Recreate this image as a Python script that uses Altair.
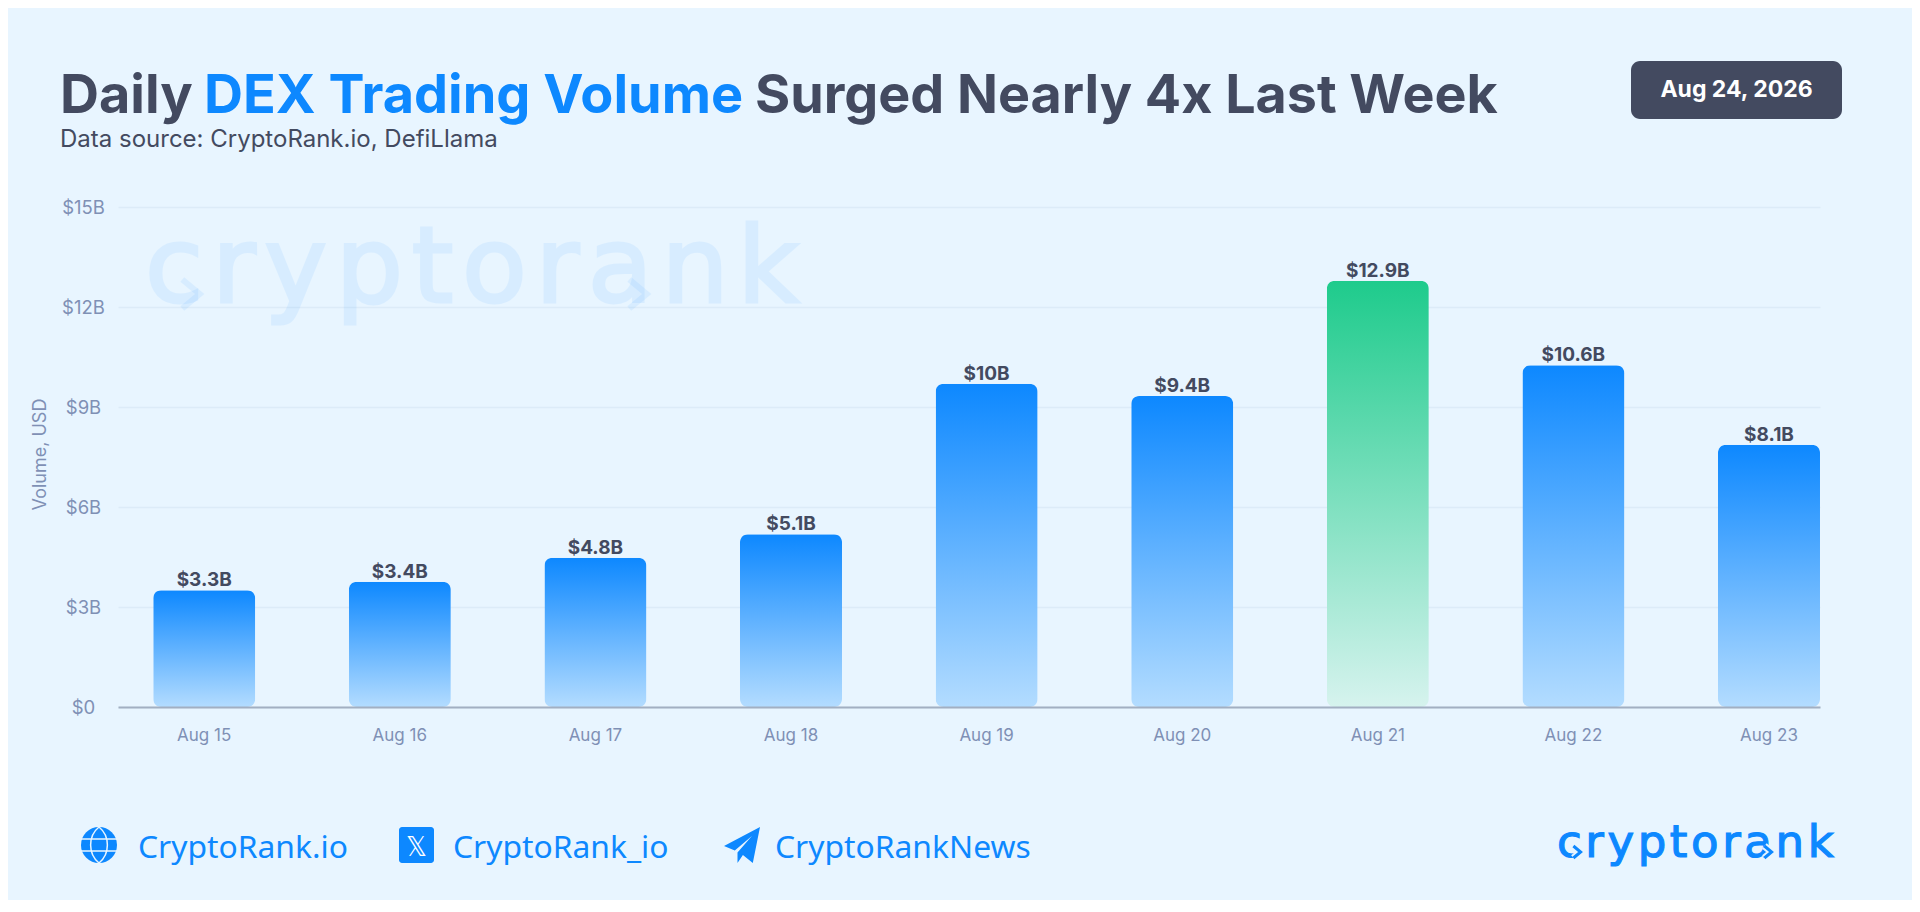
import altair as alt
import pandas as pd

days = ["Aug 15", "Aug 16", "Aug 17", "Aug 18", "Aug 19", "Aug 20", "Aug 21", "Aug 22", "Aug 23"]
bar_heights = [3.50, 3.76, 4.48, 5.18, 9.70, 9.33, 12.79, 10.25, 7.87]
bar_labels = ["$3.3B", "$3.4B", "$4.8B", "$5.1B", "$10B", "$9.4B", "$12.9B", "$10.6B", "$8.1B"]
highlight = [False, False, False, False, False, False, True, False, False]
y_ticks = [0, 3, 6, 9, 12, 15]
logo_letters = ["c", "r", "y", "p", "t", "o", "r", "a", "n", "k"]
logo_advances = [0.55, 0.411, 0.592, 0.635, 0.392, 0.612, 0.411, 0.613, 0.634, 0.579]

BG = "#e8f5ff"
DARK = "#434a60"
BLUE = "#0d88ff"
MUTED = "#7f90b5"
GRID = "#dcebf8"
FONT = "Inter"

PL, PT, PW, PH = 118, 207, 1702, 500  # page position of the plot area

df = pd.DataFrame({"day": days, "v": bar_heights, "label": bar_labels, "hi": highlight})

x_enc = alt.X(
    "day:N", sort=days,
    scale=alt.Scale(type="band", paddingInner=0.4785, paddingOuter=0.09, align=1),
    axis=alt.Axis(title=None, labelAngle=0, labelFont=FONT, labelFontSize=17, labelColor=MUTED,
                  labelPadding=20, ticks=False, domainColor="#a2afc2", domainWidth=2,
                  grid=False, zindex=1),
)
y_enc = alt.Y(
    "v:Q", scale=alt.Scale(domain=[0, 15], nice=False),
    axis=alt.Axis(title="Volume, USD", titleFont=FONT, titleFontSize=18, titleFontWeight="normal",
                  titleColor=MUTED, titleX=-69, titleY=247,
                  values=y_ticks, labelExpr="datum.value == 0 ? '$0' : '$' + datum.value + 'B'",
                  labelFont=FONT, labelFontSize=18.5, labelColor=MUTED, labelAlign="center",
                  labelPadding=35, ticks=False, domain=False, grid=True, gridColor=GRID, gridWidth=1.5),
)


def gradient(top, bottom):
    return alt.Gradient(gradient="linear", x1=0, x2=0, y1=0, y2=1,
                        stops=[alt.GradientStop(color=top, offset=0),
                               alt.GradientStop(color=bottom, offset=1)])


def note(text, x, y, size, color=DARK, weight="normal", font=FONT, align="left", **kw):
    return alt.Chart(alt.Data(values=[{"t": text}])).mark_text(
        font=font, fontSize=size, fontWeight=weight, color=color, align=align,
        baseline="alphabetic", **kw
    ).encode(x=alt.value(x - PL), y=alt.value(y - PT), text="t:N")


def icon(shape, x, y, size, opacity=1, **kw):
    return alt.Chart(alt.Data(values=[{"a": 1}])).mark_point(shape=shape, size=size, opacity=opacity, **kw).encode(
        x=alt.value(x - PL), y=alt.value(y - PT))


def spaced_logo(x, y, size, gap, **kw):
    out, cur = [], x
    for ch, adv in zip(logo_letters, logo_advances):
        out.append(note(ch, cur, y, size, font="DejaVu Sans", **kw))
        cur += adv * size + gap
    return out


CHEVRON = "M-0.6,-1 L0.6,0 L-0.6,1"
GLOBE_LINES = ("M-1,-0.33 L1,-0.33 M-1,0.33 L1,0.33 "
               "M0,-1 C-0.62,-0.5 -0.62,0.5 0,1 M0,-1 C0.62,-0.5 0.62,0.5 0,1")
PLANE = "M1,-1 L-1,0.05 L-0.4,0.3 L0.55,-0.5 L-0.25,0.42 L-0.25,1 L0.05,0.55 L0.6,1 Z"

base = alt.Chart(df)
watermark = spaced_logo(145, 302, 106, 8.7, color=BLUE, opacity=0.07, stroke=BLUE, strokeWidth=3) + [
    icon(CHEVRON, 191, 294, 841, filled=False, stroke=BLUE, strokeWidth=6, opacity=0.07),
    icon(CHEVRON, 638, 294, 841, filled=False, stroke=BLUE, strokeWidth=6, opacity=0.07),
]
bars = base.transform_filter("!datum.hi").mark_bar(cornerRadius=8, color=gradient(BLUE, "#b3dcff")).encode(x=x_enc, y=y_enc)
bars_hi = base.transform_filter("datum.hi").mark_bar(cornerRadius=8, color=gradient("#1ecb8c", "#d6f3ee")).encode(x=x_enc, y=y_enc)
labels = base.mark_text(font=FONT, fontSize=19, fontWeight="bold", color=DARK, baseline="alphabetic", dy=-4).encode(
    x=alt.X("day:N", sort=days), y=alt.Y("v:Q"), text="label:N")

badge = alt.Chart(alt.Data(values=[{"a": 1}])).mark_rect(color=DARK, cornerRadius=9).encode(
    x=alt.value(1631 - PL), x2=alt.value(1842 - PL), y=alt.value(61 - PT), y2=alt.value(119 - PT))

decor = [
    note("Daily", 60, 113, 54, weight="bold"),
    note("DEX Trading Volume", 204, 113, 54, color=BLUE, weight="bold"),
    note("Surged Nearly 4x Last Week", 755, 113, 53.8, weight="bold"),
    note("Data source: CryptoRank.io, DefiLlama", 60, 147, 24),
    badge,
    note("Aug 24, 2026", 1736.5, 97, 23, color="white", weight="bold", align="center"),
    icon("circle", 99, 845, 1296, filled=True, color=BLUE),
    icon(GLOBE_LINES, 99, 845, 1296, filled=False, stroke=BG, strokeWidth=1.5),
    note("CryptoRank.io", 138, 858, 31.8, color=BLUE, font="Noto Sans"),
    alt.Chart(alt.Data(values=[{"a": 1}])).mark_rect(color=BLUE, cornerRadius=3).encode(
        x=alt.value(399 - PL), x2=alt.value(434 - PL), y=alt.value(827 - PT), y2=alt.value(863 - PT)),
    note("𝕏", 416.5, 856, 26, color="white", font="DejaVu Sans", align="center"),
    note("CryptoRank_io", 453, 858, 31.8, color=BLUE, font="Noto Sans"),
    icon(PLANE, 742, 845, 1296, filled=True, color=BLUE),
    note("CryptoRankNews", 775, 858, 31.8, color=BLUE, font="Noto Sans"),
    *spaced_logo(1557, 857, 45, 3.6, color=BLUE, stroke=BLUE, strokeWidth=1.2),
    icon(CHEVRON, 1577, 852, 144, filled=False, stroke=BG, strokeWidth=7),
    icon(CHEVRON, 1577, 852, 144, filled=False, stroke=BLUE, strokeWidth=3),
    icon(CHEVRON, 1768, 852, 144, filled=False, stroke=BG, strokeWidth=7),
    icon(CHEVRON, 1768, 852, 144, filled=False, stroke=BLUE, strokeWidth=3),
]

chart = alt.layer(*watermark, bars, bars_hi, labels, *decor).properties(
    width=PW, height=PH,
    background=BG,
    autosize=alt.AutoSizeParams(type="none"),
    padding={"left": PL - 8, "top": PT - 8, "right": 1904 - (PL - 8) - PW, "bottom": 892 - (PT - 8) - PH},
).configure_view(stroke=None)

chart.save("out.html", embed_options={"renderer": "svg", "actions": False})
